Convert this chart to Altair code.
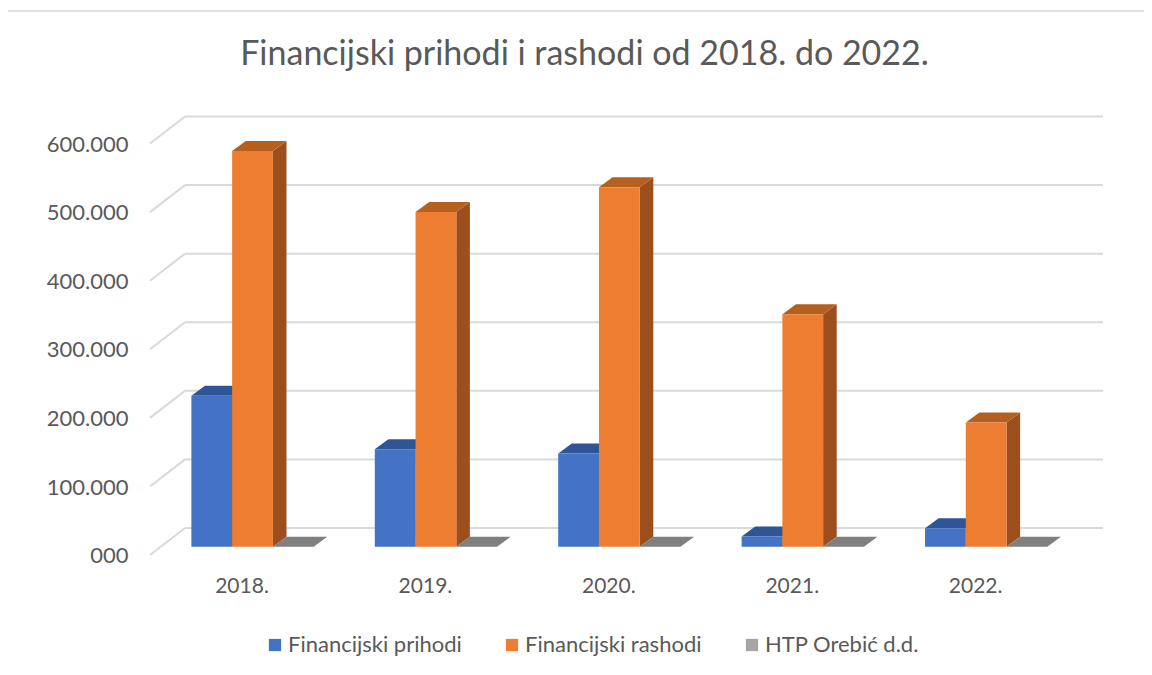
import altair as alt
import pandas as pd

# ---- data ----
years = ["2018.", "2019.", "2020.", "2021.", "2022."]
series = ["Financijski prihodi", "Financijski rashodi", "HTP Orebić d.d."]
prihodi = [220000, 142000, 136000, 15000, 27000]
rashodi = [577000, 488000, 524000, 339000, 181000]
htp = [0, 0, 0, 0, 0]
y_ticks = [0, 100000, 200000, 300000, 400000, 500000, 600000]

front_colors = ["#4472C4", "#ED7D31", "#A5A5A5"]
top_colors = ["#2F5597", "#B5601F", "#7F7F7F"]
side_colors = ["#2C4F8A", "#9C4F1C", "#6E6E6E"]

# ---- pseudo-3D geometry (in data units) ----
BAR_W = 2 / 9          # width of one bar in category units
DEPTH_X = 0.074        # bar depth, x component
DEPTH_Y = 14600        # bar depth, y component
X_MIN, X_MAX = -0.559, 4.637
Y_MIN, Y_MAX = -12100, 626600
BACK_X = -0.368        # left end of back wall
BACK_DY = 27300        # back wall offset
FRONT_DY = -12100      # front plane offset

values = [prihodi, rashodi, htp]

fronts, faces = [], []
for k, s in enumerate(series):
    for i, y in enumerate(years):
        v = values[k][i]
        a = i - 1 / 3 + k * BAR_W
        fronts.append({"series": s, "x": a, "x2": a + BAR_W, "y": 0, "y2": v})
        fid = f"{k}-{i}"
        # side face
        faces += [
            {"face": "s" + fid, "x": a + BAR_W, "y": 0, "y2": v, "c": side_colors[k]},
            {"face": "s" + fid, "x": a + BAR_W + DEPTH_X, "y": DEPTH_Y, "y2": v + DEPTH_Y, "c": side_colors[k]},
        ]
        # top face
        faces += [
            {"face": "t" + fid, "x": a, "y": v, "y2": v, "c": top_colors[k]},
            {"face": "t" + fid, "x": a + DEPTH_X, "y": v, "y2": v + DEPTH_Y, "c": top_colors[k]},
            {"face": "t" + fid, "x": a + BAR_W, "y": v, "y2": v + DEPTH_Y, "c": top_colors[k]},
            {"face": "t" + fid, "x": a + BAR_W + DEPTH_X, "y": v + DEPTH_Y, "y2": v + DEPTH_Y, "c": top_colors[k]},
        ]

fronts_df = pd.DataFrame(fronts)
faces_df = pd.DataFrame(faces)
grid_df = pd.DataFrame({
    "v": y_ticks,
    "gy": [t + BACK_DY for t in y_ticks],
    "fy": [t + FRONT_DY for t in y_ticks],
    "gx": [BACK_X] * len(y_ticks),
    "gx2": [X_MAX] * len(y_ticks),
    "fx": [X_MIN] * len(y_ticks),
})

xs = alt.Scale(domain=[X_MIN, X_MAX], nice=False, zero=False)
ys = alt.Scale(domain=[Y_MIN, Y_MAX], nice=False, zero=False)

year_expr = "[" + ",".join(f"'{y}'" for y in years) + "][datum.value]"

x_axis = alt.Axis(values=list(range(len(years))), labelExpr=year_expr, title=None,
                  domain=False, ticks=False, grid=False, labelFontSize=21,
                  labelColor="#595959", labelFont="Lato", labelPadding=20, labelOffset=-11)
y_axis = alt.Axis(values=y_ticks,
                  labelExpr="datum.value == 0 ? '000' : format(datum.value / 1000, 'd') + '.000'",
                  title=None, domain=False, ticks=False, grid=False, labelFontSize=22,
                  labelColor="#595959", labelFont="Lato", labelPadding=22, labelOffset=9)

frame = alt.Chart(pd.DataFrame({"d": [0]})).mark_rect(
    fillOpacity=0, stroke="#D9D9D9", strokeWidth=1.5
).encode(x=alt.value(-143), x2=alt.value(1100), y=alt.value(-106), y2=alt.value(600))

gridlines = alt.Chart(grid_df).mark_rule(color="#D9D9D9", strokeWidth=2).encode(
    x=alt.X("gx:Q", scale=xs, axis=x_axis), x2="gx2:Q",
    y=alt.Y("gy:Q", scale=ys, axis=y_axis),
)
diagonals = alt.Chart(grid_df).mark_rule(color="#D9D9D9", strokeWidth=2).encode(
    x=alt.X("fx:Q", scale=xs), x2="gx:Q",
    y=alt.Y("fy:Q", scale=ys), y2="gy:Q",
)
faces_layer = alt.Chart(faces_df).mark_area(interpolate="linear").encode(
    x=alt.X("x:Q", scale=xs),
    y=alt.Y("y:Q", scale=ys), y2="y2:Q",
    detail="face:N",
    color=alt.Color("c:N", scale=None, legend=None),
)
fronts_layer = alt.Chart(fronts_df).mark_rect().encode(
    x=alt.X("x:Q", scale=xs), x2="x2:Q",
    y=alt.Y("y:Q", scale=ys), y2="y2:Q",
    color=alt.Color("series:N", scale=alt.Scale(domain=series, range=front_colors),
                    legend=alt.Legend(title=None, orient="none", direction="horizontal",
                                      legendX=114, legendY=517, symbolType="square",
                                      symbolSize=150, symbolStrokeWidth=0,
                                      labelFontSize=22, labelFont="Lato", labelColor="#595959",
                                      labelLimit=400, columnPadding=39, labelOffset=2)),
)

chart = alt.layer(frame, gridlines, diagonals, faces_layer, fronts_layer).resolve_scale(
    color="independent"
).properties(
    width=953, height=438,
    autosize=alt.AutoSizeParams(type="none"),
    padding={"left": 142, "top": 109, "right": 41, "bottom": 112},
    title=alt.TitleParams("Financijski prihodi i rashodi od 2018. do 2022.", fontSize=34,
                          font="Lato", color="#595959", fontWeight="normal",
                          anchor="middle", dx=-42, offset=-62),
).configure_view(stroke=None)

chart.save("out.html", embed_options={"renderer": "svg", "actions": False})
